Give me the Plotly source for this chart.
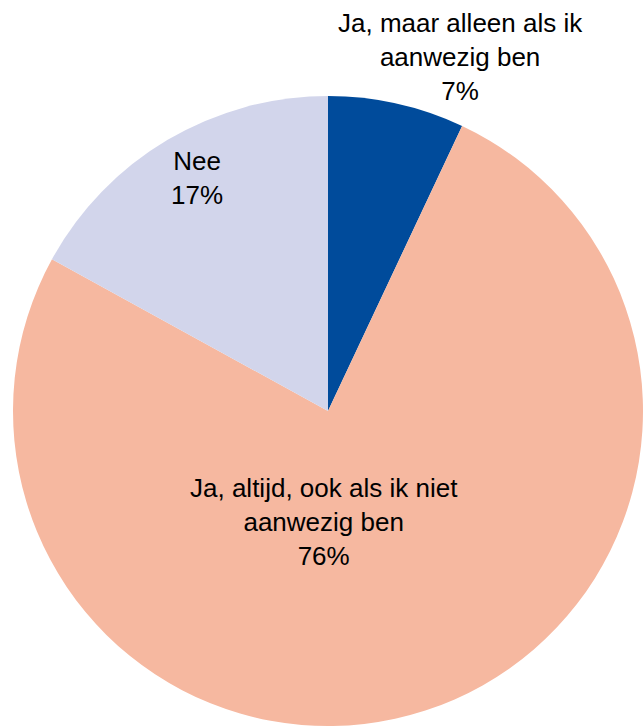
import plotly.graph_objects as go

labels = ["Ja, maar alleen als ik<br>aanwezig ben",
          "Ja, altijd, ook als ik niet<br>aanwezig ben",
          "Nee"]
values = [7, 76, 17]
colors = ["#004B9B", "#F6B8A0", "#D2D5EB"]

W, H = 643, 728
# label placement (figure pixel coords) chosen to match reference
label_px = [(460, 57), (324, 522), (197, 178)]

fig = go.Figure(go.Pie(
    labels=labels,
    values=values,
    marker=dict(colors=colors, line=dict(width=0)),
    sort=False,
    direction="clockwise",
    rotation=0,
    textinfo="none",
    hoverinfo="label+percent",
    domain=dict(x=[13 / W, 1.0], y=[2 / H, 632 / H]),
    showlegend=False,
))

total = sum(values)
for lab, v, (px, py) in zip(labels, values, label_px):
    fig.add_annotation(
        x=px / W, y=1 - py / H, xref="paper", yref="paper",
        text=f"{lab}<br>{round(100 * v / total)}%",
        showarrow=False, xanchor="center", yanchor="middle",
        font=dict(family="Liberation Sans, Arial", size=26, color="#000000"),
    )

fig.update_layout(
    width=W, height=H,
    margin=dict(l=0, r=0, t=0, b=0),
    paper_bgcolor="white", plot_bgcolor="white",
)
fig.write_html(
    "out.html",
    config={"displayModeBar": False},
    post_script="document.body.style.margin='0';document.body.style.overflow='hidden';",
)
